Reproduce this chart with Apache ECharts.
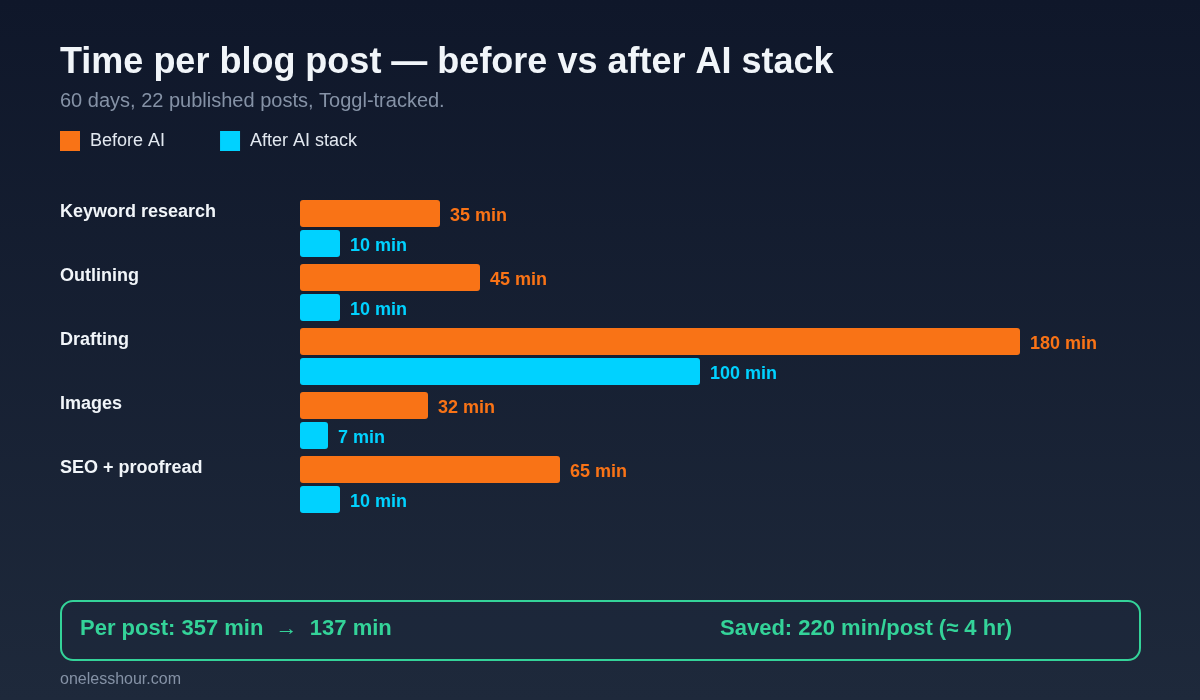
<!DOCTYPE html>
<html>
<head>
<meta charset="utf-8">
<script src="https://cdn.jsdelivr.net/npm/echarts@6/dist/echarts.min.js"></script>
<style>
  html, body { margin: 0; padding: 0; }
  #chart {
    width: 1200px;
    height: 700px;
    background: linear-gradient(180deg, #0f172a 0%, #1e293b 100%);
  }
</style>
</head>
<body>
<div id="chart"></div>
<script>
  // minutes per step
  const steps = ['Keyword research', 'Outlining', 'Drafting', 'Images', 'SEO + proofread']
  const beforeAI = [35, 45, 180, 32, 65]
  const afterAI = [10, 10, 100, 7, 10]
  const seriesNames = ['Before AI', 'After AI stack']

  const FONT = '"Liberation Sans", Arial, sans-serif'
  const ORANGE = '#f97316'
  const CYAN = '#00d2ff'
  const GREEN = '#34d399'

  const sum = arr => arr.reduce((a, b) => a + b, 0)
  const totalBefore = sum(beforeAI)
  const totalAfter = sum(afterAI)
  const saved = totalBefore - totalAfter

  const chart = echarts.init(document.getElementById('chart'))

  function barSeries(name, data, color) {
    return {
      name,
      type: 'bar',
      data,
      barWidth: 27,
      barGap: '11%',
      itemStyle: { color, borderRadius: 3 },
      label: {
        show: true,
        position: 'right',
        distance: 10,
        offset: [0, 3],
        formatter: '{c} min',
        color,
        fontFamily: FONT,
        fontSize: 18,
        fontWeight: 'bold',
      },
      emphasis: { disabled: true },
    }
  }

  chart.setOption({
    animation: false,
    textStyle: { fontFamily: FONT },
    title: {
      left: 60,
      top: 45,
      text: 'Time per blog post \u2014 before vs after AI stack',
      subtext: '60 days, 22 published posts, Toggl-tracked.',
      padding: 0,
      itemGap: 10,
      textStyle: { color: '#f1f5f9', fontSize: 36, fontWeight: 'bold', fontFamily: FONT },
      subtextStyle: { color: '#8592a6', fontSize: 20, fontFamily: FONT },
    },
    legend: {
      left: 60,
      top: 131,
      padding: 0,
      icon: 'rect',
      itemWidth: 20,
      itemHeight: 20,
      itemGap: 55,
      data: seriesNames,
      textStyle: { color: '#e2e8f0', fontSize: 18, fontFamily: FONT, padding: [0, 0, 0, 5] },
    },
    grid: {
      left: 300,
      top: 196.5,
      width: 720,
      height: 320,
      containLabel: false,
    },
    xAxis: {
      type: 'value',
      min: 0,
      max: 180,
      show: false,
    },
    yAxis: {
      type: 'category',
      data: steps,
      inverse: true,
      axisLine: { show: false },
      axisTick: { show: false },
      axisLabel: {
        margin: 240,
        align: 'left',
        verticalAlign: 'bottom',
        lineHeight: 33,
        color: '#f1f5f9',
        fontSize: 18,
        fontWeight: 'bold',
        fontFamily: FONT,
      },
    },
    series: [
      barSeries(seriesNames[0], beforeAI, ORANGE),
      barSeries(seriesNames[1], afterAI, CYAN),
    ],
    graphic: [
      {
        type: 'rect',
        shape: { x: 61, y: 601, width: 1079, height: 59, r: 12 },
        style: { fill: 'rgba(30,41,59,0.35)', stroke: GREEN, lineWidth: 2 },
      },
      {
        type: 'text',
        left: 80,
        top: 618,
        style: {
          text: `Per post: ${totalBefore} min  \u2192  ${totalAfter} min`,
          fill: GREEN,
          font: `bold 22px ${FONT}`,
        },
      },
      {
        type: 'text',
        left: 720,
        top: 618,
        style: {
          text: `Saved: ${saved} min/post (\u2248 ${Math.round(saved / 60)} hr)`,
          fill: GREEN,
          font: `bold 22px ${FONT}`,
        },
      },
      {
        type: 'text',
        left: 60,
        top: 672,
        style: {
          text: 'onelesshour.com',
          fill: '#8592a6',
          font: `16px ${FONT}`,
        },
      },
    ],
  })
</script>
</body>
</html>
